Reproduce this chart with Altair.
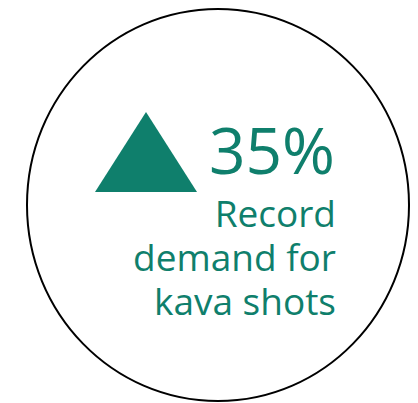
import altair as alt
import pandas as pd

# Content
headline = ["35%"]
caption_lines = ["Record", "demand for", "kava shots"]

GREEN = "#0F7F6C"
FONT = "Open Sans"

W, H = 402, 395

base = alt.Chart(pd.DataFrame({"k": [0]}))

circle = base.mark_point(
    shape="M -0.9745 0 A 0.9745 1 0 1 1 0.9745 0 A 0.9745 1 0 1 1 -0.9745 0 Z",
    size=392 * 392,
    filled=False,
    stroke="black",
    strokeWidth=2,
    opacity=1,
).encode(x=alt.value(210), y=alt.value(197))

triangle = base.mark_point(
    shape="M 0 -0.784 L -1 0.784 L 1 0.784 Z",
    size=102 * 102,
    filled=True,
    fill=GREEN,
    strokeWidth=0,
    opacity=1,
).encode(x=alt.value(138), y=alt.value(144))

big = base.mark_text(
    font=FONT, fontSize=64, color=GREEN, align="right", baseline="alphabetic"
).encode(x=alt.value(327), y=alt.value(166), text=alt.value(headline[0]))

cap = base.mark_text(
    font=FONT, fontSize=37, color=GREEN, align="right", baseline="alphabetic",
    lineHeight=44,
).encode(x=alt.value(328), y=alt.value(219), text=alt.value(caption_lines))

chart = alt.layer(circle, triangle, big, cap).properties(
    width=W, height=H, autosize=alt.AutoSizeParams(type="none"), padding=0,
    background="white",
).configure_view(stroke=None)

chart.save("out.html", embed_options={"renderer": "svg", "actions": False})
